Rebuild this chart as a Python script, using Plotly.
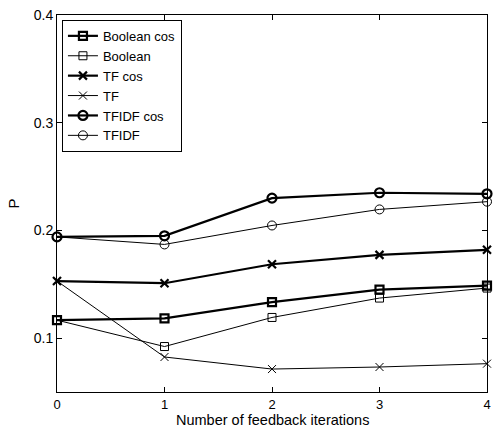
import plotly.graph_objects as go

iterations = [0, 1, 2, 3, 4]

boolean_cos = [0.1167, 0.1183, 0.1335, 0.1450, 0.1487]
boolean = [0.1167, 0.0922, 0.1192, 0.1372, 0.1465]
tf_cos = [0.1530, 0.1510, 0.1686, 0.1773, 0.1820]
tf = [0.1530, 0.0825, 0.0713, 0.0732, 0.0763]
tfidf_cos = [0.1940, 0.1950, 0.2300, 0.2350, 0.2340]
tfidf = [0.1940, 0.1870, 0.2046, 0.2195, 0.2267]

series = [
    ("Boolean cos", boolean_cos, "square-open", 2.2),
    ("Boolean", boolean, "square-open", 1.0),
    ("TF cos", tf_cos, "x-thin-open", 2.2),
    ("TF", tf, "x-thin-open", 1.0),
    ("TFIDF cos", tfidf_cos, "circle-open", 2.2),
    ("TFIDF", tfidf, "circle-open", 1.0),
]

FONT = "Liberation Sans, Arial"

fig = go.Figure()
for name, vals, sym, w in series:
    fig.add_trace(go.Scatter(
        x=iterations, y=vals, name=name, mode="lines+markers",
        line=dict(color="black", width=w),
        marker=dict(symbol=sym, size=9 if "circle" in sym else 8,
                    color="black", line=dict(color="black", width=w)),
        cliponaxis=False,
    ))

axis_common = dict(
    showgrid=False, zeroline=False, showline=True, linecolor="black",
    linewidth=1, mirror="ticks", ticks="inside", ticklen=5,
    tickcolor="black", tickfont=dict(family=FONT, size=14, color="black"),
    ticklabeloverflow="allow",
)

fig.update_layout(
    width=494, height=428,
    margin=dict(l=57, r=3, t=15, b=36),
    paper_bgcolor="white", plot_bgcolor="white",
    font=dict(family=FONT, size=14, color="black"),
    xaxis=dict(range=[0, 4], tickvals=iterations,
               tickfont=dict(family=FONT, size=13, color="black"),
               **{k: v for k, v in axis_common.items() if k != "tickfont"}),
    yaxis=dict(range=[0.05, 0.4], tickvals=[0.1, 0.2, 0.3, 0.4], ticktext=["0.1", "0.2", "0.3", "0.4"],
               title=dict(text="P", standoff=10, font=dict(size=15)), **axis_common),
    legend=dict(x=0.0115, y=0.987, xanchor="left", yanchor="top",
                bordercolor="black", borderwidth=1, bgcolor="white",
                font=dict(size=13), tracegroupgap=0, itemwidth=30),
    showlegend=True,
    annotations=[dict(text="Number of feedback iterations", xref="paper", yref="paper",
                      x=0.5, y=0, xanchor="center", yanchor="top", yshift=-19, borderpad=0,
                      showarrow=False, font=dict(family=FONT, size=14.5, color="black"))],
)

fig.write_html("out.html")
